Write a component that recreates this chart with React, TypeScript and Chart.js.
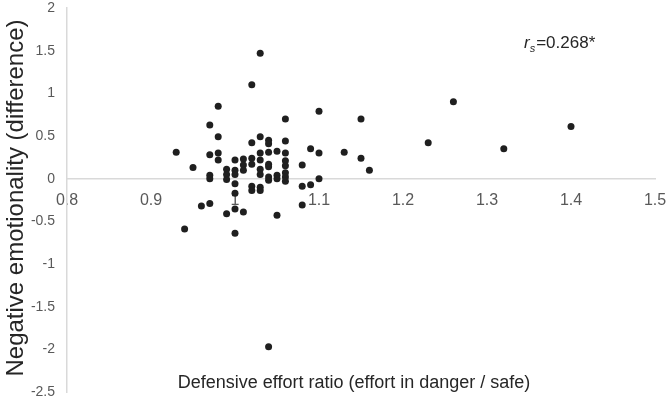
import React, { useEffect, useRef } from "react";
import { Chart, registerables } from "chart.js";

Chart.register(...registerables);

// Defensive effort ratio (x) and negative emotionality difference (y), paired by index
const effortRatio: number[] = [
  0.93, 0.94, 0.95, 0.96, 0.97, 0.97, 0.97, 0.97, 0.97,
  0.98, 0.98, 0.98, 0.98,
  0.99, 0.99, 0.99, 0.99,
  1.0, 1.0, 1.0, 1.0, 1.0, 1.0, 1.0,
  1.01, 1.01, 1.01, 1.01,
  1.02, 1.02, 1.02, 1.02, 1.02, 1.02,
  1.03, 1.03, 1.03, 1.03, 1.03, 1.03, 1.03, 1.03,
  1.04, 1.04, 1.04, 1.04, 1.04, 1.04, 1.04, 1.04,
  1.05, 1.05, 1.05, 1.05,
  1.06, 1.06, 1.06, 1.06, 1.06, 1.06, 1.06, 1.06,
  1.08, 1.08, 1.08,
  1.09, 1.09,
  1.1, 1.1, 1.1,
  1.13, 1.15, 1.15, 1.16, 1.23, 1.26, 1.32, 1.4,
];

const emotionalityDiff: number[] = [
  0.31, -0.59, 0.13, -0.32, -0.29, 0.63, 0.28, 0.04, 0.0,
  0.85, 0.49, 0.3, 0.22,
  0.11, 0.05, -0.01, -0.41,
  0.22, 0.1, 0.05, -0.06, -0.17, -0.355, -0.64,
  0.23, 0.16, 0.1, -0.39,
  1.1, 0.42, 0.24, 0.17, -0.09, -0.14,
  1.47, 0.49, 0.3, 0.22, 0.11, 0.05, -0.1, -0.14,
  0.45, 0.41, 0.31, 0.17, 0.14, 0.02, -0.02, -1.97,
  0.32, 0.04, 0.0, -0.43,
  0.7, 0.44, 0.3, 0.21, 0.15, 0.07, 0.02, -0.03,
  0.16, -0.09, -0.31,
  0.35, -0.07,
  0.79, 0.3, 0.0,
  0.31, 0.7, 0.24, 0.1, 0.42, 0.9, 0.35, 0.61,
];

const xTitle = "Defensive effort ratio (effort in danger / safe)";
const yTitle = "Negative emotionality (difference)";
const corrLabel = "0.268*";

const FONT = "'Liberation Sans', Arial, sans-serif";

export default function App() {
  const canvasRef = useRef<HTMLCanvasElement | null>(null);

  useEffect(() => {
    document.body.style.margin = "0";
    const canvas = canvasRef.current;
    if (!canvas) return;

    const textPlugin = {
      id: "texts",
      afterDraw(chart: any) {
        const ctx = chart.ctx as CanvasRenderingContext2D;
        ctx.save();
        ctx.fillStyle = "#262626";
        ctx.font = `24px ${FONT}`;
        ctx.textAlign = "center";
        ctx.textBaseline = "middle";
        ctx.translate(16, 198);
        ctx.rotate(-Math.PI / 2);
        ctx.fillText(yTitle, 0, 0);
        ctx.restore();

        ctx.save();
        ctx.fillStyle = "#262626";
        ctx.font = `18px ${FONT}`;
        ctx.textAlign = "center";
        ctx.textBaseline = "middle";
        ctx.fillText(xTitle, 354, 383);
        ctx.restore();

        // r_s annotation
        ctx.save();
        ctx.fillStyle = "#262626";
        ctx.textBaseline = "alphabetic";
        ctx.textAlign = "left";
        let x = 524;
        const base = 48;
        ctx.font = `italic 17px ${FONT}`;
        ctx.fillText("r", x, base);
        x += ctx.measureText("r").width;
        ctx.font = `italic 11px ${FONT}`;
        ctx.fillText("s", x, base + 4);
        x += ctx.measureText("s").width + 1;
        ctx.font = `17px ${FONT}`;
        ctx.fillText("=" + corrLabel, x, base);
        ctx.restore();
      },
    };

    const chart = new Chart(canvas, {
      type: "scatter",
      data: {
        datasets: [
          {
            data: effortRatio.map((x, i) => ({ x, y: emotionalityDiff[i] })),
            backgroundColor: "#1f1f1f",
            borderColor: "#1f1f1f",
            pointRadius: 3.5,
            pointHoverRadius: 3.5,
            borderWidth: 0,
          },
        ],
      },
      options: {
        responsive: false,
        animation: false,
        layout: { padding: { left: 0, top: 8, right: 11, bottom: 8 } },
        plugins: {
          legend: { display: false },
          tooltip: { enabled: false },
        },
        scales: {
          x: {
            type: "linear",
            min: 0.8,
            max: 1.5,
            position: { y: 0 } as any,
            grid: { display: false, drawTicks: false },
            border: { display: true, color: "#d9d9d9", width: 1.5 },
            ticks: {
              stepSize: 0.1,
              padding: 12,
              color: "#595959",
              font: { family: FONT, size: 16 },
              maxRotation: 0,
              callback: (v: any) => String(Math.round(Number(v) * 10) / 10),
            },
            afterFit: (scale: any) => {
              scale.height = 0;
              scale.paddingLeft = 0;
              scale.paddingRight = 0;
            },
          },
          y: {
            type: "linear",
            min: -2.5,
            max: 2,
            grid: { display: false, drawTicks: false },
            border: { display: true, color: "#d9d9d9", width: 1.5 },
            ticks: {
              stepSize: 0.5,
              padding: 12,
              color: "#595959",
              font: { family: FONT, size: 14 },
              callback: (v: any) => String(Math.round(Number(v) * 10) / 10),
            },
            afterFit: (scale: any) => {
              scale.width = 67;
              scale.paddingTop = 0;
              scale.paddingBottom = 0;
            },
          },
        },
      },
      plugins: [textPlugin],
    });

    return () => chart.destroy();
  }, []);

  return (
    <div style={{ position: "absolute", left: 0, top: 0, width: 666, height: 400 }}>
      <canvas ref={canvasRef} width={666} height={400} />
    </div>
  );
}
